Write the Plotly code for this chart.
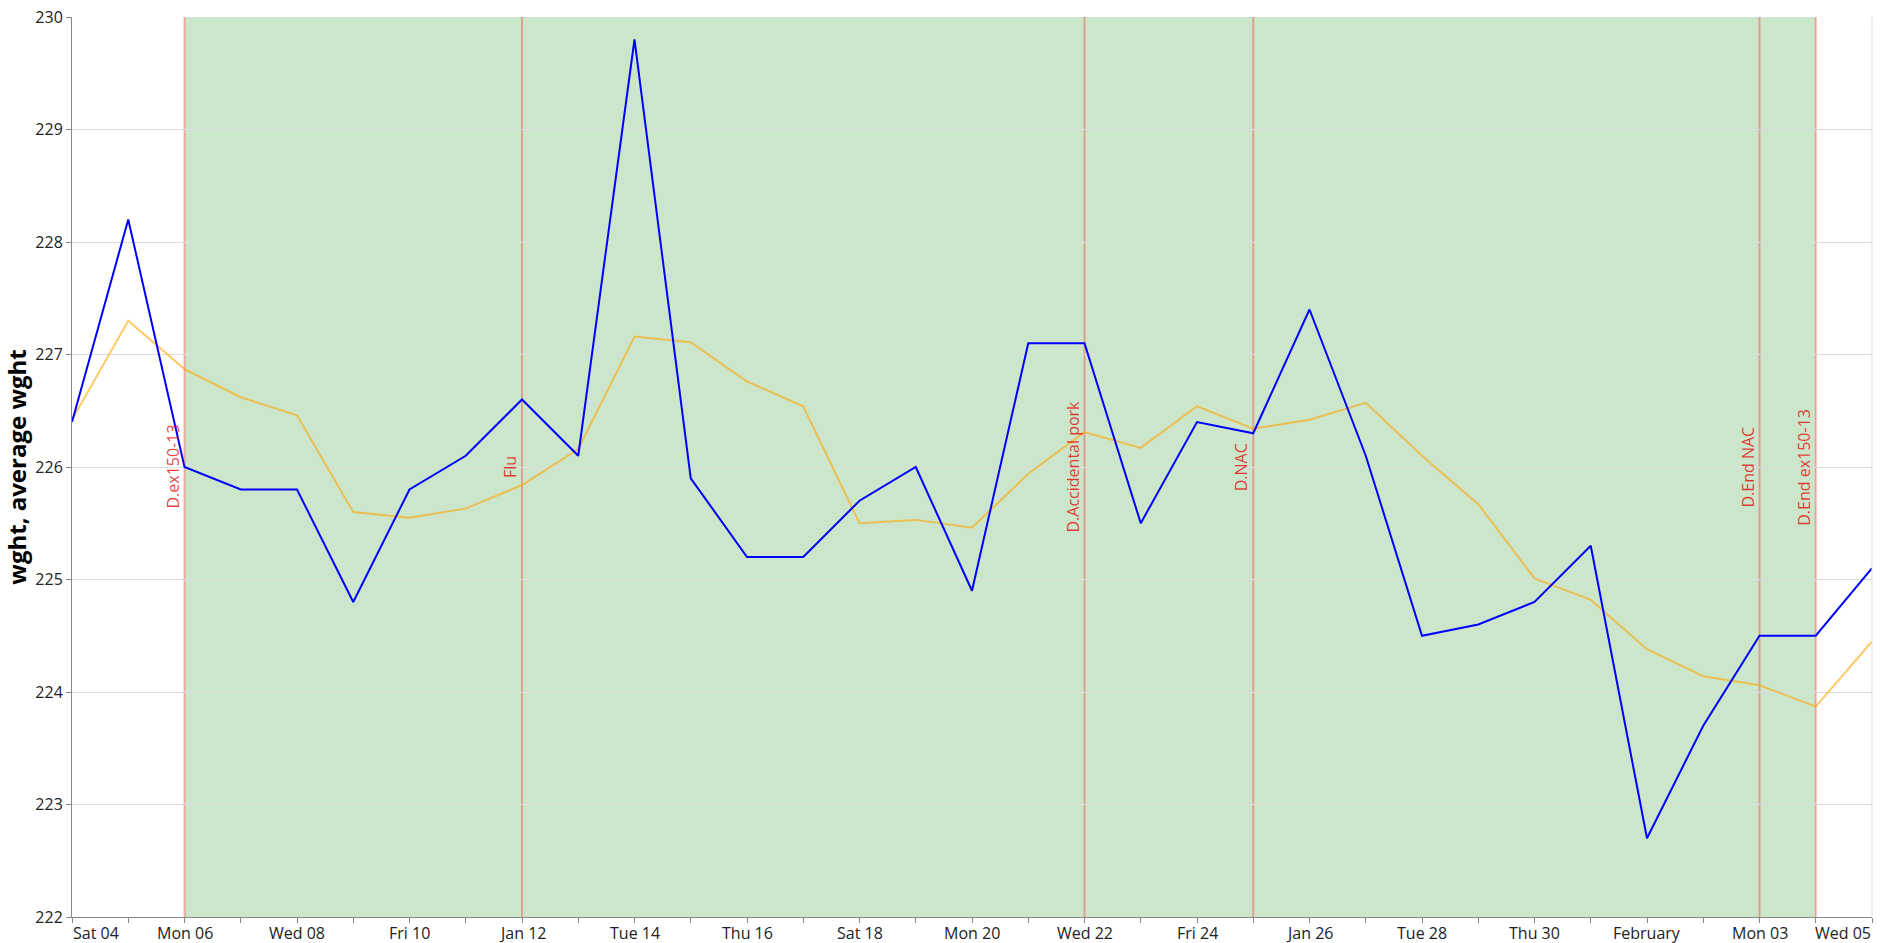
import plotly.graph_objects as go
import pandas as pd

dates = pd.date_range("2014-01-04", "2014-02-05", freq="D")

wght = [226.4, 228.2, 226.0, 225.8, 225.8, 224.8, 225.8, 226.1, 226.6, 226.1,
        229.8, 225.9, 225.2, 225.2, 225.7, 226.0, 224.9, 227.1, 227.1, 225.5,
        226.4, 226.3, 227.4, 226.1, 224.5, 224.6, 224.8, 225.3, 222.7, 223.7,
        224.5, 224.5, 225.1]

avg_wght = [226.42, 227.3, 226.87, 226.62, 226.46, 225.6, 225.55, 225.63, 225.84, 226.16,
            227.16, 227.11, 226.76, 226.54, 225.5, 225.53, 225.46, 225.94, 226.31, 226.17,
            226.54, 226.34, 226.42, 226.57, 226.1, 225.67, 225.01, 224.82, 224.38, 224.14,
            224.06, 223.87, 224.45]

event_dates = ["2014-01-06", "2014-01-12", "2014-01-22", "2014-01-25", "2014-02-03", "2014-02-04"]
event_labels = ["D.ex150-13", "Flu", "D.Accidental pork", "D.NAC", "D.End NAC", "D.End ex150-13"]

period_start = "2014-01-06"
period_end = "2014-02-04"

tick_labels = ["Sat 04", "Mon 06", "Wed 08", "Fri 10", "Jan 12", "Tue 14", "Thu 16", "Sat 18",
               "Mon 20", "Wed 22", "Fri 24", "Jan 26", "Tue 28", "Thu 30", "February",
               "Mon 03", "Wed 05"]
tick_dates = dates[::2]

FONT = "Open Sans"
TICKFONT = dict(family=FONT, size=16, color="#222")

fig = go.Figure()
fig.add_trace(go.Scatter(x=dates, y=avg_wght, mode="lines", name="average wght",
                         line=dict(color="rgba(255,165,0,0.6)", width=2)))
fig.add_trace(go.Scatter(x=dates, y=wght, mode="lines", name="wght",
                         line=dict(color="#0000ff", width=2)))

# shaded period
fig.add_shape(type="rect", xref="x", yref="paper", x0=period_start, x1=period_end,
              y0=0, y1=1, fillcolor="rgba(0,128,0,0.2)", line=dict(width=0), layer="between")

for d, lab in zip(event_dates, event_labels):
    fig.add_shape(type="line", xref="x", yref="paper", x0=d, x1=d, y0=0, y1=1,
                  line=dict(color="rgba(255,0,0,0.3)", width=2), layer="between")
    fig.add_annotation(x=d, y=226, xref="x", yref="y", text=lab, textangle=-90,
                       showarrow=False, xanchor="right", yanchor="middle",
                       xshift=0, borderpad=0,
                       font=dict(family=FONT, size=16, color="rgba(230,0,0,0.75)"))

# right border
fig.add_shape(type="line", xref="paper", yref="paper", x0=1, x1=1, y0=0, y1=1,
              line=dict(color="#dddddd", width=1))

# x tick labels (every other day), first left-aligned, last right-aligned
n = len(tick_labels)
for i, (d, lab) in enumerate(zip(tick_dates, tick_labels)):
    anchor = "left" if i == 0 else ("right" if i == n - 1 else "center")
    fig.add_annotation(x=d, y=0, xref="x", yref="paper", yshift=-4, text=lab,
                       showarrow=False, xanchor=anchor, yanchor="top",
                       borderpad=0, font=TICKFONT)

fig.update_layout(
    width=1882, height=943,
    margin=dict(l=72, r=10, t=17, b=26),
    paper_bgcolor="white", plot_bgcolor="white",
    showlegend=False,
    font=dict(family=FONT, size=16, color="#222"),
    xaxis=dict(range=[dates[0], dates[-1]], tickvals=list(dates),
               ticktext=[""] * len(dates),
               ticks="outside", ticklen=5, tickcolor="#888", showgrid=False,
               showline=True, linecolor="#888", linewidth=1, zeroline=False,
               automargin=False),
    yaxis=dict(range=[222, 230], dtick=1, ticks="outside", ticklen=5, tickcolor="#888",
               showgrid=True, gridcolor="#dddddd", gridwidth=1,
               showline=True, linecolor="#888", linewidth=1, zeroline=False,
               tickfont=TICKFONT, automargin=False,
               title=dict(text="<b>wght, average wght</b>", standoff=6,
                          font=dict(family=FONT, size=24, color="#000"))),
)

fig.write_html("out.html", config={"displayModeBar": False},
               post_script="document.body.style.margin='0px';document.body.style.overflow='hidden';")
